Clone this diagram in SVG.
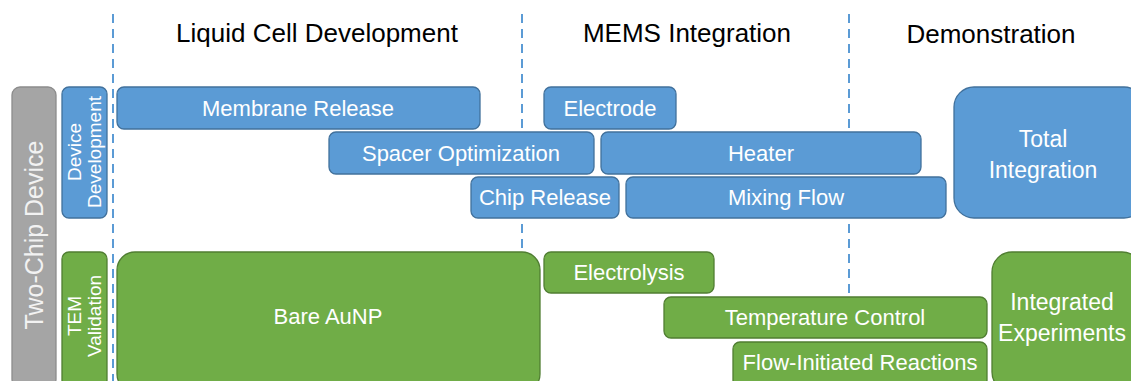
<svg xmlns="http://www.w3.org/2000/svg" width="1131" height="381" viewBox="0 0 1131 381">
<style>
.blue{fill:#5b9bd5;stroke:#41719c;stroke-width:1.3}
.green{fill:#70ad47;stroke:#507e32;stroke-width:1.3}
.gray{fill:#a5a5a5;stroke:#8c8c8c;stroke-width:1.3}
.lbl{font-family:"Liberation Sans",Arial,sans-serif;font-size:22px;fill:#ffffff;text-anchor:middle}
.big{font-size:23px}
.rot{font-size:19px}
.hdr{font-family:"Liberation Sans",Arial,sans-serif;font-size:26px;fill:#000000;text-anchor:middle}
.div{stroke:#5b9bd5;stroke-width:2;stroke-dasharray:9 6;fill:none}
</style>
<rect width="1131" height="381" fill="#ffffff"/>
<g id="connectors">
<line class="div" x1="113" y1="14" x2="113" y2="381"/>
<line class="div" x1="522" y1="14" x2="522" y2="381"/>
<line class="div" x1="849" y1="14" x2="849" y2="381"/>
</g>
<g id="headers">
<text class="hdr" x="317" y="42">Liquid Cell Development</text>
<text class="hdr" x="687" y="42">MEMS Integration</text>
<text class="hdr" x="991" y="43">Demonstration</text>
</g>
<g id="two-chip-device">
<rect class="gray" x="12" y="87" width="44" height="300" rx="8"/>
<text class="lbl" transform="translate(43,235) rotate(-90)" style="font-size:25px;fill:#f2f2f2">Two-Chip Device</text>
</g>
<g id="device-development">
<rect class="blue" x="62" y="87" width="45" height="131" rx="7"/>
<text class="lbl rot" transform="translate(81,152) rotate(-90)">Device</text>
<text class="lbl rot" transform="translate(101,152) rotate(-90)">Development</text>
</g>
<g id="tem-validation">
<rect class="green" x="62" y="252" width="45" height="135" rx="7"/>
<text class="lbl rot" transform="translate(81,316) rotate(-90)">TEM</text>
<text class="lbl rot" transform="translate(101,316) rotate(-90)">Validation</text>
</g>
<g id="membrane-release">
<rect class="blue" x="117" y="87" width="363" height="42" rx="7"/>
<text class="lbl" x="298" y="116">Membrane Release</text>
</g>
<g id="electrode">
<rect class="blue" x="544" y="87" width="132" height="42" rx="7"/>
<text class="lbl" x="610" y="116">Electrode</text>
</g>
<g id="spacer-optimization">
<rect class="blue" x="329" y="132" width="265" height="42" rx="7"/>
<text class="lbl" x="461" y="161">Spacer Optimization</text>
</g>
<g id="heater">
<rect class="blue" x="601" y="132" width="320" height="42" rx="7"/>
<text class="lbl" x="761" y="161">Heater</text>
</g>
<g id="chip-release">
<rect class="blue" x="471" y="177" width="148" height="41" rx="7"/>
<text class="lbl" x="545" y="205">Chip Release</text>
</g>
<g id="mixing-flow">
<rect class="blue" x="626" y="177" width="320" height="41" rx="7"/>
<text class="lbl" x="786" y="205">Mixing Flow</text>
</g>
<g id="total-integration">
<rect class="blue" x="954" y="87" width="190" height="131" rx="20"/>
<text class="lbl big" x="1043" y="147">Total</text>
<text class="lbl big" x="1043" y="178">Integration</text>
</g>
<g id="bare-aunp">
<rect class="green" x="117" y="252" width="423" height="140" rx="18"/>
<text class="lbl" x="328" y="324">Bare AuNP</text>
</g>
<g id="electrolysis">
<rect class="green" x="544" y="252" width="170" height="41" rx="7"/>
<text class="lbl" x="629" y="280">Electrolysis</text>
</g>
<g id="temperature-control">
<rect class="green" x="664" y="297" width="323" height="41" rx="7"/>
<text class="lbl" x="825" y="325">Temperature Control</text>
</g>
<g id="flow-initiated-reactions">
<rect class="green" x="733" y="342" width="254" height="45" rx="7"/>
<text class="lbl" x="860" y="370">Flow-Initiated Reactions</text>
</g>
<g id="integrated-experiments">
<rect class="green" x="992" y="252" width="150" height="140" rx="20"/>
<text class="lbl big" x="1062" y="310">Integrated</text>
<text class="lbl big" x="1062" y="341">Experiments</text>
</g>
</svg>
